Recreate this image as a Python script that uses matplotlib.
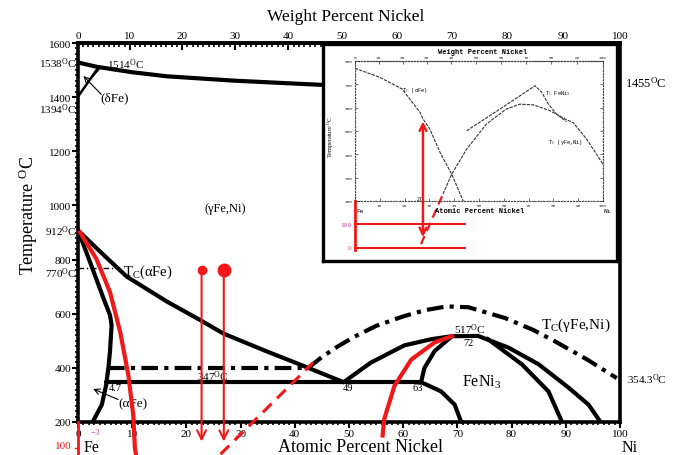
import numpy as np
import matplotlib
matplotlib.use("Agg")
import matplotlib.pyplot as plt
from matplotlib.ticker import MultipleLocator

plt.rcParams['font.family'] = ['Liberation Serif', 'DejaVu Serif']
plt.rcParams['mathtext.fontset'] = 'custom'
plt.rcParams['mathtext.rm'] = 'Liberation Serif'
plt.rcParams['mathtext.it'] = 'Liberation Serif:italic'

RED = '#f01818'
PINK = '#d050a8'
DEG = r'$^{\mathrm{O}}$C'

# ======================
# DATA (atomic % Ni, T in C)
# ======================
liq_x = [0, 3.5, 10, 16.4, 28.7, 45.3, 60, 80, 100]
liq_T = [1528, 1512, 1492, 1477, 1461, 1445, 1445, 1450, 1455]
delta_x = [0, 3.6]
delta_T = [1402, 1505]
delta2_x = [2.8, 3.9]
delta2_T = [1480, 1505]

gam_x = [0, 4.1, 9, 16.4, 22.5, 26.8, 34.8, 41, 49]
gam_T = [908, 829, 737, 645, 577, 527, 461, 412, 347]
alp_x = [0, 2.2, 4.7, 5.9, 6.2, 5.9, 5.6, 5.2, 4.4, 3.1, 2.7]
alp_T = [908, 792, 657, 595, 558, 460, 399, 337, 264, 215, 200]

eut_x = [5.2, 63.3]
eut_T = [347, 347]
mag_x = [5.6, 42.5]
mag_T = [400, 400]
tca_x = [0, 7.2]
tca_T = [768, 768]

ni3_left_x = [49, 54, 60.2, 65.2, 69]
ni3_left_T = [347, 419, 483, 506, 517]
ni3_in_x = [63.3, 63.9, 65.8, 69]
ni3_in_T = [347, 399, 462, 517]
ni3_low_x = [63.3, 67, 69.5, 70.7]
ni3_low_T = [347, 313, 264, 200]
arc_x = [69, 73.8, 79.4, 85, 90.5, 94.2, 96.4]
arc_T = [517, 518, 475, 413, 327, 264, 200]
inner_x = [75.5, 81.9, 86.8, 89.3]
inner_T = [508, 413, 313, 200]

tcg_x = [42.5, 45, 48, 51, 55, 60, 64, 68, 72, 78.8, 84, 88, 94, 99.4]
tcg_T = [400, 440, 480, 515, 555, 590, 613, 627, 624, 584, 540, 498, 430, 362]

red_l_x = [0.4, 3.4, 5.9, 7.8, 9.3, 10.2, 10.5, 10.7]
red_l_T = [900, 802, 680, 531, 372, 225, 103, 80]
red_r_x = [56.2, 56.5, 58.4, 61.5, 65.8, 69]
red_r_T = [150, 211, 334, 431, 494, 517]
red_d_x = [26.3, 43.4]
red_d_T = [81, 420]
arrow_x = [22.8, 26.9]
arrow_top = [760, 763]
arrow_bot = [128, 128]
dot_size = [6, 9]

# inset (Curie temperatures)
in_a_x = [0, 10, 19, 26.2, 27.5, 30.2, 34.3, 39, 43.7]
in_a_T = [769, 730, 680, 580, 551, 508, 408, 315, 198]
in_g_x = [35.5, 39, 45, 53, 61, 66.5, 72, 78.6, 85, 88, 93.4, 100]
in_g_T = [230, 315, 422, 530, 594, 615, 612, 587, 550, 536, 465, 358]
in_f_x = [45, 55, 65, 72.6, 75.3, 78, 81.3, 85.3]
in_f_T = [501, 570, 640, 694, 666, 615, 572, 540]
in_red_lines = [100, 0]
in_arrow_x = 27.4
in_arrow_T = [551, 45]
in_dash_x = [26.6, 35.5]
in_dash_T = [15, 230]


def at_to_wt(a):
    a = np.asarray(a, dtype=float)
    m = a * 58.69
    return 100 * m / (m + (100 - a) * 55.845)


def wt_to_at(w):
    w = np.asarray(w, dtype=float)
    n = w / 58.69
    return 100 * n / (n + (100 - w) / 55.845)


W, H = 673, 456
fig = plt.figure(figsize=(W / 100, H / 100), dpi=100)


def fx(px):
    return px / W


def fy(py):
    return 1 - py / H


# ======================
# MAIN DIAGRAM
# ======================
ax = fig.add_axes([fx(78), fy(423), (620 - 78) / W, (423 - 44) / H])
ax.set_xlim(0, 100)
ax.set_ylim(200, 1600)
for s in ax.spines.values():
    s.set_linewidth(2.6)

ax.set_yticks(range(200, 1601, 200))
ax.yaxis.set_minor_locator(MultipleLocator(20))
ax.set_xticks(range(0, 101, 10))
ax.xaxis.set_minor_locator(MultipleLocator(1))
ax.tick_params(axis='y', which='major', direction='out', length=4, width=1.5, labelsize=8, pad=1)
ax.tick_params(axis='y', which='minor', direction='out', length=2.5, width=1.2)
ax.tick_params(axis='x', which='major', direction='out', length=4, width=1.5, labelsize=8, pad=1)
ax.tick_params(axis='x', which='minor', direction='out', length=2.5, width=1.2)

sec = ax.secondary_xaxis('top', functions=(at_to_wt, wt_to_at))
sec.set_xticks(range(0, 101, 10))
sec.xaxis.set_minor_locator(MultipleLocator(1))
sec.tick_params(which='major', direction='in', length=5, width=1.5, labelsize=8, pad=2)
sec.tick_params(which='minor', direction='in', length=3, width=1.2)
sec.spines['top'].set_linewidth(2.6)

lw = 3
kw = dict(color='black', lw=lw, solid_capstyle='round')
ax.plot(liq_x, liq_T, **kw)
ax.plot(delta_x, delta_T, color='black', lw=1.8)
ax.plot(delta2_x, delta2_T, color='black', lw=1.5)
ax.plot(gam_x, gam_T, **kw)
ax.plot(alp_x, alp_T, **kw)
ax.plot(eut_x, eut_T, **kw)
ax.plot(mag_x, mag_T, color='black', lw=3, dashes=(4, 1.5, 1, 1.5))
ax.plot(tca_x, tca_T, color='black', lw=1, dashes=(4, 2, 1, 2))
ax.plot(ni3_left_x, ni3_left_T, **kw)
ax.plot(ni3_in_x, ni3_in_T, **kw)
ax.plot(ni3_low_x, ni3_low_T, **kw)
ax.plot(arc_x, arc_T, **kw)
ax.plot(inner_x, inner_T, **kw)
ax.plot(tcg_x, tcg_T, color='black', lw=3, dashes=(4, 1.5, 1, 1.5), clip_on=False)

# red overlays
ax.plot(red_l_x, red_l_T, color=RED, lw=3, clip_on=False, zorder=4)
ax.plot(red_r_x, red_r_T, color=RED, lw=3, clip_on=False, zorder=4)
ax.plot(red_d_x, red_d_T, color=RED, lw=2.2, dashes=(4, 2.5), clip_on=False, zorder=4)
ax.plot([0, 0], [200, 70], color=RED, lw=2, clip_on=False, zorder=4)
ax.plot([-0.6, 0], [105, 105], color=RED, lw=1, clip_on=False)
for x, t0, t1, ms in zip(arrow_x, arrow_top, arrow_bot, dot_size):
    ax.annotate('', xy=(x, t1), xytext=(x, t0), annotation_clip=False,
                arrowprops=dict(arrowstyle='->', color=RED, lw=1.5, mutation_scale=16,
                                shrinkA=0, shrinkB=0), zorder=4)
    ax.plot(x, t0, 'o', color=RED, ms=ms, clip_on=False, zorder=4)

# labels inside main diagram
ax.text(5.4, 1525, '1514' + DEG, fontsize=8, va='center')
ax.text(4.1, 1401, '(δFe)', fontsize=9.5, va='center')
ax.annotate('', xy=(1.0, 1478), xytext=(4.3, 1410),
            arrowprops=dict(arrowstyle='->', color='black', lw=0.8, shrinkA=0, shrinkB=0))
ax.text(27.2, 992, '(γFe,Ni)', fontsize=9, ha='center', va='center')
ax.text(8.3, 758, r'T$_{\mathrm{C}}$(αFe)', fontsize=10.5, va='center')
ax.text(24.9, 372, '347' + DEG, fontsize=8, ha='center', va='center')
ax.text(5.6, 329, '4.7', fontsize=7.5, va='center')
ax.text(7.4, 270, '(αFe)', fontsize=9.5, va='center')
ax.annotate('', xy=(2.8, 322), xytext=(7.4, 283),
            arrowprops=dict(arrowstyle='->', color='black', lw=0.8, shrinkA=0, shrinkB=0))
ax.text(49.8, 329, '49', fontsize=7.5, ha='center', va='center')
ax.text(62.6, 329, '63', fontsize=7.5, ha='center', va='center')
ax.text(72.2, 543, '517' + DEG, fontsize=8, ha='center', va='center')
ax.text(72.0, 494, '72', fontsize=7.5, ha='center', va='center')
ax.text(74.4, 352, r'FeNi$_{3}$', fontsize=11.5, ha='center', va='center')
ax.text(85.5, 560, r'T$_{\mathrm{C}}$(γFe,Ni)', fontsize=11, va='center')
ax.text(101.3, 359, '354.3' + DEG, fontsize=8, va='center', clip_on=False)
ax.text(101.0, 1455, '1455' + DEG, fontsize=9, va='center', clip_on=False)

# labels outside
fig.text(fx(76), fy(64), '1538' + DEG, fontsize=8, ha='right', va='center')
fig.text(fx(76), fy(110), '1394' + DEG, fontsize=8, ha='right', va='center')
fig.text(fx(76), fy(232), '912' + DEG, fontsize=8, ha='right', va='center')
fig.text(fx(76), fy(274), '770' + DEG, fontsize=8, ha='right', va='center')
fig.text(fx(72), fy(447), '100', fontsize=8, color=RED, ha='right', va='center')
fig.text(fx(95), fy(433), '−3', fontsize=6.5, color=PINK, ha='center', va='center')
fig.text(fx(84), fy(448), 'Fe', fontsize=11.5, va='center')
fig.text(fx(622), fy(448), 'Ni', fontsize=11.5, va='center')
fig.text(fx(360), fy(448), 'Atomic Percent Nickel', fontsize=13, ha='center', va='center')
fig.text(fx(346), fy(17), 'Weight Percent Nickel', fontsize=12.5, ha='center', va='center')
fig.text(fx(28), fy(215), 'Temperature ' + DEG, fontsize=13, rotation=90, ha='center', va='center')

# ======================
# INSET
# ======================
box = fig.add_axes([fx(323), fy(262), (617 - 323) / W, (262 - 45) / H], zorder=5)
box.set_facecolor('white')
box.set_xticks([])
box.set_yticks([])
for s in box.spines.values():
    s.set_linewidth(2.4)

mono = ['Liberation Mono', 'DejaVu Sans Mono']
ins = fig.add_axes([fx(355), fy(202), (603 - 355) / W, (202 - 62) / H], zorder=6)
ins.set_facecolor('none')
ins.set_xlim(0, 100)
ins.set_ylim(200, 800)
for s in ins.spines.values():
    s.set_linewidth(0.8)
    s.set_linestyle(':')
    s.set_color('#444444')
ins.set_xticks(range(0, 101, 10))
ins.set_yticks(range(200, 801, 100))
ins.xaxis.set_minor_locator(MultipleLocator(2))
ins.yaxis.set_minor_locator(MultipleLocator(20))
ins.tick_params(which='major', direction='in', length=2, width=0.5, labelsize=3.2, pad=1.5,
                colors='#333333')
ins.tick_params(which='minor', direction='in', length=1, width=0.4, colors='#555555')
ins.tick_params(axis='y', right=True, which='both')
for lab in ins.get_xticklabels() + ins.get_yticklabels():
    lab.set_family(mono)
isec = ins.secondary_xaxis('top', functions=(at_to_wt, wt_to_at))
isec.set_xticks(range(0, 101, 10))
isec.tick_params(direction='in', length=2, width=0.5, labelsize=3.2, pad=1.5, colors='#333333')
isec.spines['top'].set_linestyle(':')
isec.spines['top'].set_linewidth(0.8)
for lab in isec.get_xticklabels():
    lab.set_family(mono)

ikw = dict(color='#333333', lw=0.8, dashes=(3, 1))
ins.plot(in_a_x, in_a_T, **ikw)
ins.plot(in_g_x, in_g_T, **ikw)
ins.plot(in_f_x, in_f_T, **ikw)

ins.text(19, 677, r'T$_{\mathrm{C}}$ (αFe)', fontsize=3.8, family=mono, va='center')
ins.text(76.6, 666, r'T$_{\mathrm{C}}$ FeNi$_3$', fontsize=3.8, family=mono, va='center')
ins.text(77.8, 456, r'T$_{\mathrm{C}}$ (γFe,Ni)', fontsize=3.8, family=mono, va='center')
ins.text(26.2, 210, '27', fontsize=3.5, family=mono, ha='center', va='center')

# red extension of the inset
for t in in_red_lines:
    ins.plot([0, 44.4], [t, t], color=RED, lw=1.5, clip_on=False)
    ins.text(-1.5, t, str(t), fontsize=4.5, color=PINK, family=mono, ha='right', va='center')
ins.plot([0, 0], [200, -8], color=RED, lw=2, clip_on=False)
ins.annotate('', xy=(in_arrow_x, in_arrow_T[1]), xytext=(in_arrow_x, in_arrow_T[0] - 10),
             annotation_clip=False,
             arrowprops=dict(arrowstyle='<->', color=RED, lw=1.8, mutation_scale=12,
                             shrinkA=0, shrinkB=0))
ins.plot(in_dash_x, in_dash_T, color=RED, lw=1.6, dashes=(4, 2.5), clip_on=False)

fig.text(fx(483), fy(53), 'Weight Percent Nickel', fontsize=5, family=mono, weight='bold',
         ha='center', va='center', zorder=7)
fig.text(fx(480), fy(212), 'Atomic Percent Nickel', fontsize=5, family=mono, weight='bold',
         ha='center', va='center', zorder=7)
fig.text(fx(356), fy(212), 'Fe', fontsize=4.5, family=mono, va='center', zorder=7)
fig.text(fx(603), fy(212), 'Ni', fontsize=4.5, family=mono, va='center', zorder=7)
fig.text(fx(331), fy(137), 'Temperature ' + DEG, fontsize=4.5, rotation=90, ha='center',
         va='center', zorder=7)

fig.savefig('out.png', dpi=100)
